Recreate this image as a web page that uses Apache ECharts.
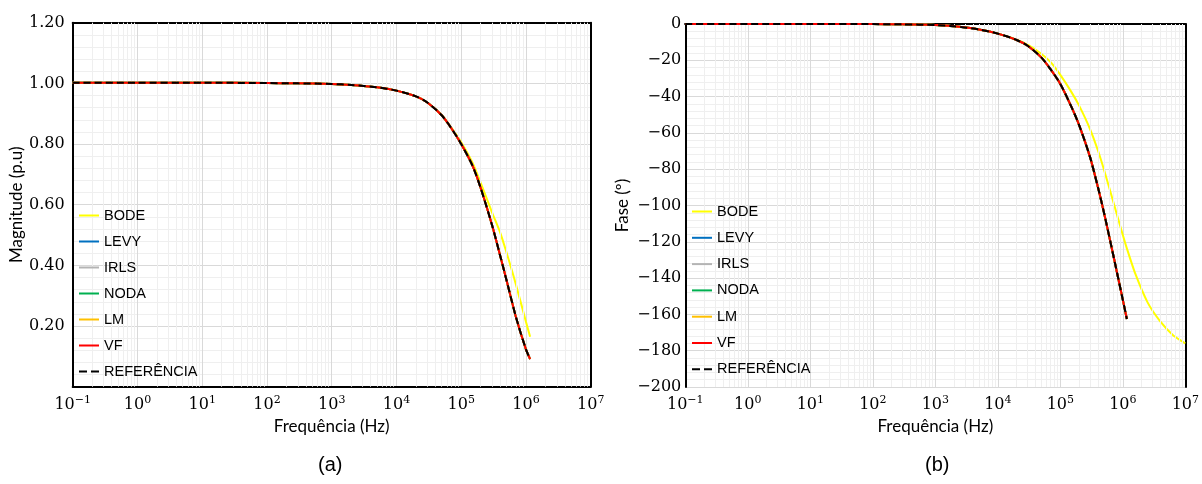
<!DOCTYPE html>
<html>
<head>
<meta charset="utf-8">
<script src="https://cdn.jsdelivr.net/npm/echarts@6/dist/echarts.min.js"></script>
<style>
html,body{margin:0;padding:0;background:#fff;}
#c{width:1202px;height:484px;}
</style>
</head>
<body>
<div id="c"></div>
<script>
// Frequencies (Hz)
const freq = [0.1, 1, 10, 100, 300, 1000, 2000, 5000, 1e4, 2e4, 3e4, 5e4, 7e4, 1e5, 1.5e5, 2e5, 3e5, 4e5, 5e5, 7e5, 1e6, 1.16e6];
const freqBodeExtra = [1.6e6, 2.5e6, 4e6, 6.3e6, 1e7];

// Magnitude (p.u)
const refMag  = [1.002,1.002,1.002,1.001,1.000,0.998,0.995,0.987,0.976,0.957,0.937,0.895,0.853,0.800,0.728,0.655,0.532,0.432,0.352,0.230,0.123,0.091];
const bodeMag = [1.002,1.002,1.002,1.001,1.000,0.998,0.995,0.987,0.976,0.957,0.937,0.896,0.855,0.806,0.738,0.672,0.574,0.508,0.443,0.337,0.214,0.165];
const levyMag = refMag, irlsMag = refMag, nodaMag = refMag, lmMag = refMag, vfMag = refMag;

// Phase (degrees)
const refPhase  = [0,0,0,-0.05,-0.2,-0.6,-1.3,-3.0,-5.3,-8.8,-12.0,-18.5,-25,-33,-45.5,-55.7,-73.5,-90,-104,-127,-152,-162.5];
const bodePhase = [0,0,0,-0.05,-0.2,-0.6,-1.3,-3.0,-5.3,-8.6,-11.4,-16.5,-21,-28,-37.4,-45,-58,-69.7,-80.3,-97.7,-116.3,-123.6,-138,-153.5,-164,-171.3,-176];
const levyPhase = refPhase, irlsPhase = refPhase, nodaPhase = refPhase, lmPhase = refPhase, vfPhase = refPhase;

const names = ['BODE','LEVY','IRLS','NODA','LM','VF','REFERÊNCIA'];
const colors = ['#ffff00','#0070c0','#b4b4b4','#00b050','#ffc000','#ff0000','#000000'];
const colorsB = ['#ffff00','#0070c0','#808080','#00b050','#ffc000','#ff0000','#000000'];

function pairs(xs, ys){ return ys.map((y,i)=>[xs[i], y]); }

const magSets = [bodeMag, levyMag, irlsMag, nodaMag, lmMag, vfMag, refMag];
const phaseSets = [bodePhase, levyPhase, irlsPhase, nodaPhase, lmPhase, vfPhase, refPhase];
const freqBode = freq.concat(freqBodeExtra);

const minorX = [];
for (let e = -1; e < 7; e++) for (let k = 2; k <= 9; k++) minorX.push(k * Math.pow(10, e));

function mkSeries(gi, sets, xsFirst, cols){
  const out = [];
  out.push({
    type:'line', xAxisIndex:gi, yAxisIndex:gi, data:[], symbol:'none', silent:true, z:1,
    markLine:{silent:true, symbol:['none','none'], animation:false, label:{show:false},
      lineStyle:{color:'#efefef', width:1, type:'solid'},
      data: minorX.map(v=>({xAxis:v}))}
  });
  sets.forEach((s,i)=>{
    const xs = (i===0 && xsFirst) ? xsFirst : freq;
    out.push({
      name:names[i], type:'line', xAxisIndex:gi, yAxisIndex:gi,
      data:pairs(xs, s), symbol:'none', showSymbol:false, smooth:0.25, animation:false, z:3+i,
      lineStyle: i===6 ? {color:'#000', width:2, type:[7,4]} : {color:cols[i], width:2},
      itemStyle:{color:cols[i]}
    });
  });
  return out;
}

const tickFont = 'DejaVu Serif';
function xLabel(v){
  const e = Math.round(Math.log10(v));
  const s = e < 0 ? '\u2212' + (-e) : String(e);
  return '{b|10}{s|' + s + '}';
}
const xRich = {
  b:{fontFamily:tickFont, fontSize:16, color:'#000'},
  s:{fontFamily:tickFont, fontSize:11, color:'#000', padding:[0,0,9,0]}
};
const titleStyle = {fontFamily:'Lato', fontSize:17, color:'#000'};

function xAxis(gi){
  return {
    type:'log', gridIndex:gi, logBase:10, min:0.1, max:1e7, interval:1,
    name:'Frequência (Hz)', nameLocation:'middle', nameGap:26,
    nameTextStyle:titleStyle,
    axisLine:{show:true, lineStyle:{color:'#000', width:2}},
    axisTick:{show:false},
    axisLabel:{formatter:xLabel, rich:xRich, margin:8},
    splitLine:{show:true, lineStyle:{color:'#d9d9d9', width:1}}
  };
}
function borderX(gi){
  return {type:'value', gridIndex:gi, position:'top', min:0, max:1,
    axisLine:{show:true, onZero:false, lineStyle:{color:'#000', width:2}},
    axisTick:{show:false}, axisLabel:{show:false}, splitLine:{show:false}};
}
function borderY(gi){
  return {type:'value', gridIndex:gi, position:'right', min:0, max:1,
    axisLine:{show:true, onZero:false, lineStyle:{color:'#000', width:2}},
    axisTick:{show:false}, axisLabel:{show:false}, splitLine:{show:false}};
}

const dashIcon = 'path://M0,0h8v2h-8z M12,0h8v2h-8z';
const legendData = names.map((n,i)=>({name:n, icon: i===6 ? dashIcon : 'rect'}));
const legendCommon = {
  orient:'vertical', padding:0, itemWidth:20, itemHeight:2, selectedMode:false, z:20,
  itemStyle:{borderWidth:0, borderColor:'transparent', borderType:'solid', decal:'none'},
  lineStyle:{type:'solid', width:0},
  textStyle:{fontFamily:'Liberation Sans', fontSize:14.5, lineHeight:14, color:'#000'}
};

const option = {
  backgroundColor:'#fff',
  animation:false,
  grid:[
    {left:72.7, right:611.3, top:22.7, bottom:97.3},
    {left:685.3, right:8.7, top:24, bottom:97}
  ],
  xAxis:[xAxis(0), xAxis(1), borderX(0), borderX(1)],
  yAxis:[
    {type:'value', gridIndex:0, min:0, max:1.2, interval:0.2,
     name:'Magnitude (p.u)', nameLocation:'middle', nameGap:48,
     nameTextStyle:titleStyle,
     axisLine:{show:true, lineStyle:{color:'#000', width:2}}, axisTick:{show:false},
     axisLabel:{fontFamily:tickFont, fontSize:16, color:'#000', margin:8,
       formatter:v=> v===0 ? '' : v.toFixed(2)},
     splitLine:{show:true, lineStyle:{color:'#d9d9d9'}},
     minorTick:{show:false, splitNumber:5},
     minorSplitLine:{show:true, lineStyle:{color:'#efefef'}}},
    {type:'value', gridIndex:1, min:-200, max:0, interval:20,
     name:'Fase (º)', nameLocation:'middle', nameGap:54,
     nameTextStyle:titleStyle,
     axisLine:{show:true, lineStyle:{color:'#000', width:2}}, axisTick:{show:false},
     axisLabel:{fontFamily:tickFont, fontSize:16, color:'#000', margin:4,
       formatter:v=> v<0 ? '\u2212' + (-v) : String(v)},
     splitLine:{show:true, lineStyle:{color:'#d9d9d9'}},
     minorTick:{show:false, splitNumber:5},
     minorSplitLine:{show:true, lineStyle:{color:'#efefef'}}},
    borderY(0), borderY(1)
  ],
  legend:[
    Object.assign({data:legendData, left:79, top:208, itemGap:11}, legendCommon),
    Object.assign({data:legendData, left:692, top:204, itemGap:11.3}, legendCommon)
  ],
  graphic:[
    {type:'text', left:318, top:455, style:{text:'(a)', font:'20px Liberation Sans', fill:'#000'}},
    {type:'text', left:925, top:455, style:{text:'(b)', font:'20px Liberation Sans', fill:'#000'}}
  ],
  series:[].concat(mkSeries(0, magSets, null, colors), mkSeries(1, phaseSets, freqBode, colorsB))
};

const chart = echarts.init(document.getElementById('c'), null, {renderer:'canvas'});
chart.setOption(option);
</script>
</body>
</html>
